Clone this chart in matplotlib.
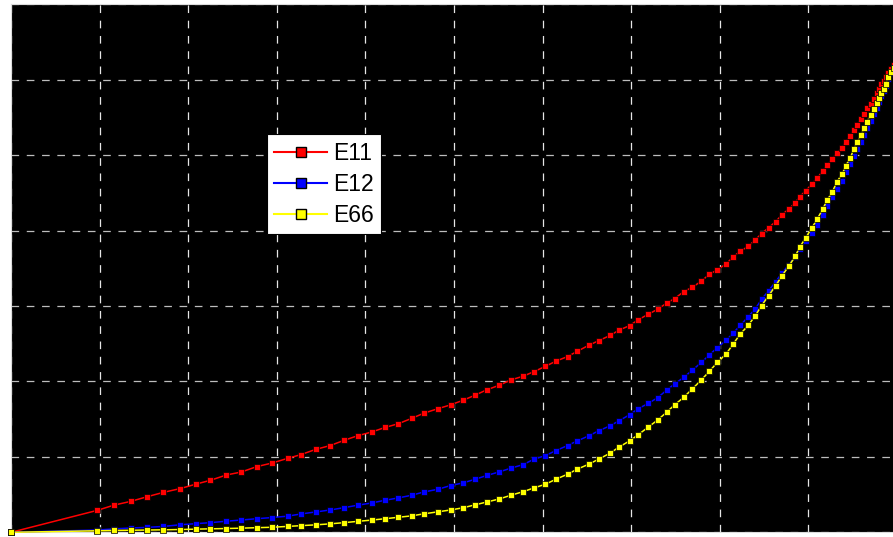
import matplotlib
matplotlib.use("Agg")
import matplotlib.pyplot as plt
from matplotlib.lines import Line2D

plt.rcParams["font.family"] = ["Liberation Sans", "DejaVu Sans"]
plt.rcParams["lines.scale_dashes"] = False

# sample positions (shared by all three curves)
x_vals = [
    0.00, 0.97, 1.16, 1.35, 1.53, 1.72, 1.91, 2.09, 2.25, 2.43,
    2.60, 2.77, 2.95, 3.12, 3.27, 3.44, 3.60, 3.76, 3.91, 4.07,
    4.22, 4.37, 4.52, 4.66, 4.82, 4.96, 5.10, 5.24, 5.37, 5.51,
    5.64, 5.78, 5.90, 6.03, 6.15, 6.28, 6.39, 6.52, 6.63, 6.76,
    6.86, 6.98, 7.08, 7.19, 7.30, 7.40, 7.49, 7.59, 7.69, 7.79,
    7.88, 7.97, 8.07, 8.15, 8.23, 8.32, 8.40, 8.47, 8.55, 8.63,
    8.70, 8.78, 8.85, 8.90, 8.97, 9.04, 9.10, 9.16, 9.21, 9.27,
    9.32, 9.38, 9.42, 9.47, 9.51, 9.55, 9.59, 9.63, 9.66, 9.70,
    9.74, 9.77, 9.80, 9.82, 9.85, 9.87, 9.90, 9.93, 9.96,
]

e11 = [
    0.00, 0.29, 0.36, 0.41, 0.47, 0.53, 0.58, 0.64, 0.69, 0.76,
    0.80, 0.87, 0.92, 0.98, 1.03, 1.10, 1.15, 1.22, 1.28, 1.33,
    1.39, 1.44, 1.51, 1.58, 1.64, 1.69, 1.75, 1.82, 1.89, 1.95,
    2.02, 2.07, 2.13, 2.20, 2.27, 2.33, 2.40, 2.48, 2.54, 2.61,
    2.68, 2.74, 2.82, 2.89, 2.96, 3.04, 3.10, 3.19, 3.25, 3.33,
    3.42, 3.48, 3.56, 3.65, 3.73, 3.79, 3.88, 3.96, 4.04, 4.12,
    4.21, 4.29, 4.37, 4.45, 4.53, 4.62, 4.70, 4.79, 4.87, 4.95,
    5.03, 5.10, 5.18, 5.25, 5.33, 5.40, 5.48, 5.55, 5.62, 5.68,
    5.75, 5.82, 5.88, 5.94, 5.99, 6.04, 6.09, 6.14, 6.19,
]

e12 = [
    0.000, 0.030, 0.045, 0.057, 0.065, 0.078, 0.100, 0.115, 0.128, 0.147,
    0.163, 0.180, 0.196, 0.214, 0.243, 0.270, 0.296, 0.327, 0.359, 0.389,
    0.425, 0.456, 0.491, 0.535, 0.571, 0.620, 0.655, 0.704, 0.754, 0.801,
    0.850, 0.898, 0.969, 1.017, 1.084, 1.150, 1.212, 1.279, 1.345, 1.412,
    1.478, 1.558, 1.641, 1.708, 1.787, 1.886, 1.969, 2.053, 2.151, 2.252,
    2.351, 2.448, 2.544, 2.643, 2.744, 2.859, 2.965, 3.089, 3.205, 3.324,
    3.437, 3.550, 3.656, 3.762, 3.862, 3.975, 4.081, 4.207, 4.327, 4.440,
    4.552, 4.656, 4.772, 4.878, 4.984, 5.077, 5.170, 5.263, 5.363, 5.455,
    5.542, 5.628, 5.708, 5.788, 5.854, 5.920, 6.007, 6.086, 6.153,
]

e66 = [
    0.000, 0.020, 0.024, 0.027, 0.030, 0.033, 0.037, 0.042, 0.046, 0.050,
    0.055, 0.061, 0.067, 0.078, 0.088, 0.099, 0.112, 0.128, 0.145, 0.162,
    0.180, 0.199, 0.218, 0.245, 0.272, 0.296, 0.325, 0.365, 0.402, 0.442,
    0.491, 0.539, 0.588, 0.637, 0.704, 0.770, 0.837, 0.903, 0.969, 1.049,
    1.129, 1.212, 1.296, 1.394, 1.491, 1.594, 1.691, 1.788, 1.903, 2.020,
    2.133, 2.252, 2.364, 2.497, 2.629, 2.744, 2.873, 3.005, 3.138, 3.271,
    3.400, 3.533, 3.660, 3.780, 3.908, 4.041, 4.157, 4.284, 4.404, 4.515,
    4.648, 4.749, 4.861, 4.961, 5.077, 5.174, 5.263, 5.356, 5.445, 5.529,
    5.608, 5.692, 5.758, 5.830, 5.883, 5.944, 6.033, 6.100, 6.162,
]

series = [("E11", e11, "#ff0000"), ("E12", e12, "#0000ff"), ("E66", e66, "#ffff00")]

fig = plt.figure(figsize=(8.93, 5.37), dpi=100)
fig.patch.set_facecolor("white")
# axes runs a little past the right edge of the picture, like the crop
ax = fig.add_axes([0.01243, 0.00875, 0.99216, 0.98305])
ax.set_facecolor("black")

for name, ys, col in series:
    ax.plot(x_vals, ys, color=col, lw=1.1, marker="s", ms=5.0,
            mfc=col, mec="black", mew=0.5, zorder=3, clip_on=False)

ax.set_xlim(0, 10)
ax.set_ylim(0, 7)
ax.set_xticks(range(0, 11))
ax.set_yticks(range(0, 8))
ax.tick_params(length=0, labelleft=False, labelbottom=False)
ax.xaxis.grid(True, color="#e6e6e6", lw=0.9, linestyle=(0, (5.5, 5.5)))
ax.yaxis.grid(True, color="#bdbdbd", lw=0.9, linestyle=(0, (5.5, 5.5)))
for sp in ax.spines.values():
    sp.set_color("#dcdcdc")
    sp.set_linewidth(0.8)

handles = [Line2D([0], [0], color=col, lw=1.5, marker="s", ms=6.5,
                  mfc=col, mec="black", mew=1.0) for _, _, col in series]
leg = ax.legend(handles, [s[0] for s in series],
                loc="upper left", bbox_to_anchor=(266.7 / 893, 1 - 134 / 537),
                bbox_transform=fig.transFigure, borderaxespad=0,
                fontsize=16.5, handlelength=2.3, handletextpad=0.25,
                labelspacing=0.35, borderpad=0.33, fancybox=False,
                framealpha=1, facecolor="white", edgecolor="black")
leg.get_frame().set_linewidth(0.8)
leg.set_zorder(5)

fig.savefig("out.png", dpi=100, facecolor="white")
